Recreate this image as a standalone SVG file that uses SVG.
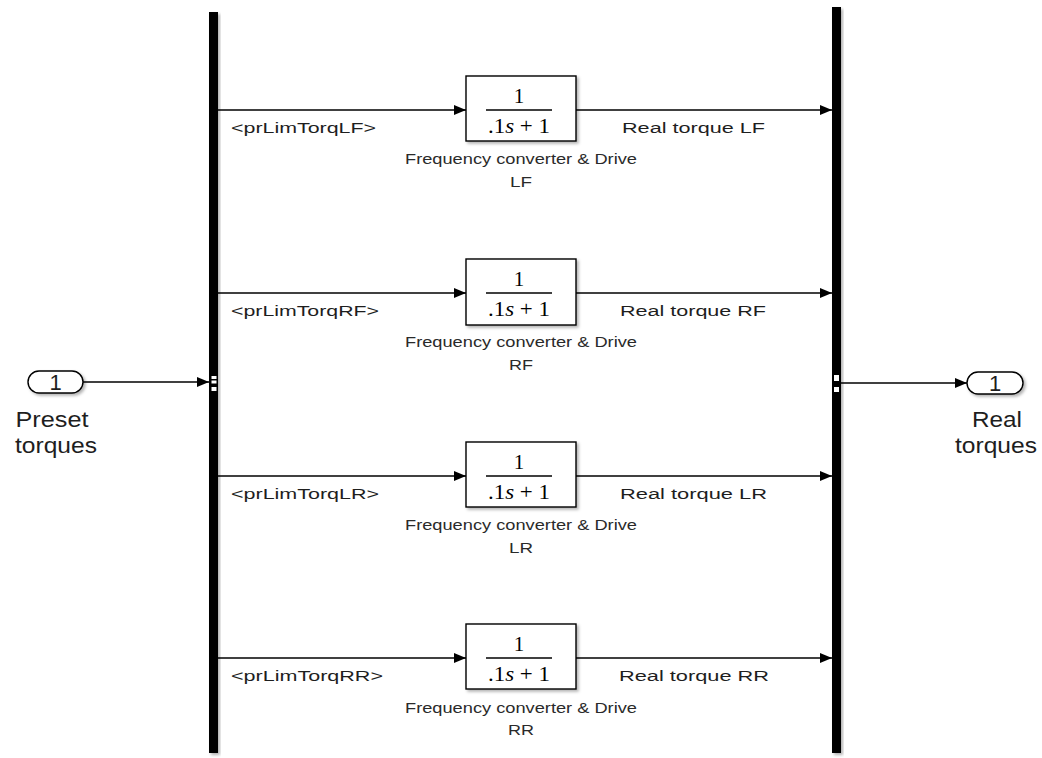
<svg xmlns="http://www.w3.org/2000/svg" width="1042" height="758" viewBox="0 0 1042 758">
<style>
.bar{fill:#000}
.blk{fill:#fff;stroke:#000;stroke-width:1.4}
.port{fill:#fff;stroke:#000;stroke-width:1.4}
.wire{fill:none;stroke:#000;stroke-width:1.3}
.lbl{font-family:"Liberation Sans",Arial,sans-serif;font-size:15.5px;fill:#1e1e1e}
.cap{font-family:"Liberation Sans",Arial,sans-serif;font-size:14px;fill:#2a2a2a;text-anchor:middle}
.big{font-family:"Liberation Sans",Arial,sans-serif;font-size:22px;fill:#1e1e1e;text-anchor:middle}
.num{font-family:"Liberation Serif","Times New Roman",serif;font-size:21px;fill:#000;text-anchor:middle}
.fb{stroke:#000;stroke-width:1.5}
.mux{fill:#fff}
</style>
<defs>
<filter id="sh" x="-20%" y="-20%" width="150%" height="150%">
<feDropShadow dx="2" dy="2" stdDeviation="1.5" flood-color="#000" flood-opacity="0.3"/>
</filter>
<marker id="ah" markerUnits="userSpaceOnUse" markerWidth="13" markerHeight="11" refX="12" refY="5" orient="auto">
<path d="M0,0 L12,5 L0,10 z" fill="#000"/>
</marker>
</defs>
<rect width="1042" height="758" fill="#fff"/>

<g id="demux" filter="url(#sh)">
<rect class="bar" x="209" y="12" width="9" height="741"/>
<rect class="mux" x="211.5" y="376" width="5" height="3"/>
<rect class="mux" x="211.5" y="380.5" width="5" height="3"/>
<rect class="mux" x="211.5" y="387" width="5" height="4"/>
</g>
<g id="mux" filter="url(#sh)">
<rect class="bar" x="832" y="7" width="9" height="746"/>
<rect class="mux" x="834" y="375" width="5" height="6"/>
<rect class="mux" x="834" y="387" width="5" height="5"/>
</g>

<g id="inport">
<rect class="port" x="28" y="371" width="55" height="22" rx="11" filter="url(#sh)"/>
<text class="big" x="55.5" y="390" font-size="20">1</text>
<text class="big" x="52" y="427" textLength="73" lengthAdjust="spacingAndGlyphs">Preset</text>
<text class="big" x="56" y="453" textLength="82" lengthAdjust="spacingAndGlyphs">torques</text>
</g>
<g id="outport">
<rect class="port" x="967" y="372" width="56" height="22" rx="11" filter="url(#sh)"/>
<text class="big" x="995" y="391" font-size="20">1</text>
<text class="big" x="997" y="427" textLength="50" lengthAdjust="spacingAndGlyphs">Real</text>
<text class="big" x="996" y="453" textLength="82" lengthAdjust="spacingAndGlyphs">torques</text>
</g>

<g id="blockLF">
<rect class="blk" x="466" y="76" width="110" height="65" filter="url(#sh)"/>
<text class="num" x="519" y="103" font-size="22">1</text>
<line class="fb" x1="486" y1="110" x2="552" y2="110"/>
<text class="num" x="519" y="133" textLength="62" lengthAdjust="spacingAndGlyphs">.1<tspan font-style="italic">s</tspan> + 1</text>
<text class="cap" x="521" y="164" textLength="232" lengthAdjust="spacingAndGlyphs">Frequency converter &amp; Drive</text>
<text class="cap" x="521" y="187" textLength="22" lengthAdjust="spacingAndGlyphs">LF</text>
</g>
<g id="blockRF">
<rect class="blk" x="466" y="259" width="110" height="66" filter="url(#sh)"/>
<text class="num" x="519" y="286" font-size="22">1</text>
<line class="fb" x1="486" y1="293" x2="552" y2="293"/>
<text class="num" x="519" y="316" textLength="62" lengthAdjust="spacingAndGlyphs">.1<tspan font-style="italic">s</tspan> + 1</text>
<text class="cap" x="521" y="347" textLength="232" lengthAdjust="spacingAndGlyphs">Frequency converter &amp; Drive</text>
<text class="cap" x="521" y="370" textLength="24" lengthAdjust="spacingAndGlyphs">RF</text>
</g>
<g id="blockLR">
<rect class="blk" x="466" y="442" width="110" height="65" filter="url(#sh)"/>
<text class="num" x="519" y="469" font-size="22">1</text>
<line class="fb" x1="486" y1="476" x2="552" y2="476"/>
<text class="num" x="519" y="499" textLength="62" lengthAdjust="spacingAndGlyphs">.1<tspan font-style="italic">s</tspan> + 1</text>
<text class="cap" x="521" y="530" textLength="232" lengthAdjust="spacingAndGlyphs">Frequency converter &amp; Drive</text>
<text class="cap" x="521" y="553" textLength="24" lengthAdjust="spacingAndGlyphs">LR</text>
</g>
<g id="blockRR">
<rect class="blk" x="466" y="624" width="110" height="65" filter="url(#sh)"/>
<text class="num" x="519" y="651" font-size="22">1</text>
<line class="fb" x1="486" y1="658" x2="552" y2="658"/>
<text class="num" x="519" y="681" textLength="62" lengthAdjust="spacingAndGlyphs">.1<tspan font-style="italic">s</tspan> + 1</text>
<text class="cap" x="521" y="713" textLength="232" lengthAdjust="spacingAndGlyphs">Frequency converter &amp; Drive</text>
<text class="cap" x="521" y="735" textLength="26" lengthAdjust="spacingAndGlyphs">RR</text>
</g>

<g id="connectors">
<path class="wire" d="M83,382 H209" marker-end="url(#ah)"/>
<path class="wire" d="M841,383 H967" marker-end="url(#ah)"/>
<path class="wire" d="M218,110 H466" marker-end="url(#ah)"/>
<path class="wire" d="M576,110 H832" marker-end="url(#ah)"/>
<path class="wire" d="M218,293 H466" marker-end="url(#ah)"/>
<path class="wire" d="M576,293 H832" marker-end="url(#ah)"/>
<path class="wire" d="M218,476 H466" marker-end="url(#ah)"/>
<path class="wire" d="M576,476 H832" marker-end="url(#ah)"/>
<path class="wire" d="M218,658 H466" marker-end="url(#ah)"/>
<path class="wire" d="M576,658 H832" marker-end="url(#ah)"/>
</g>

<g id="labels">
<text class="lbl" x="231" y="133" textLength="145" lengthAdjust="spacingAndGlyphs">&lt;prLimTorqLF&gt;</text>
<text class="lbl" x="231" y="316" textLength="148" lengthAdjust="spacingAndGlyphs">&lt;prLimTorqRF&gt;</text>
<text class="lbl" x="231" y="499" textLength="148" lengthAdjust="spacingAndGlyphs">&lt;prLimTorqLR&gt;</text>
<text class="lbl" x="231" y="681" textLength="152" lengthAdjust="spacingAndGlyphs">&lt;prLimTorqRR&gt;</text>
<text class="lbl" x="622" y="133" font-size="16.5" textLength="143" lengthAdjust="spacingAndGlyphs">Real torque LF</text>
<text class="lbl" x="620" y="316" font-size="16.5" textLength="146" lengthAdjust="spacingAndGlyphs">Real torque RF</text>
<text class="lbl" x="620" y="499" font-size="16.5" textLength="147" lengthAdjust="spacingAndGlyphs">Real torque LR</text>
<text class="lbl" x="619" y="681" font-size="16.5" textLength="150" lengthAdjust="spacingAndGlyphs">Real torque RR</text>
</g>
</svg>
